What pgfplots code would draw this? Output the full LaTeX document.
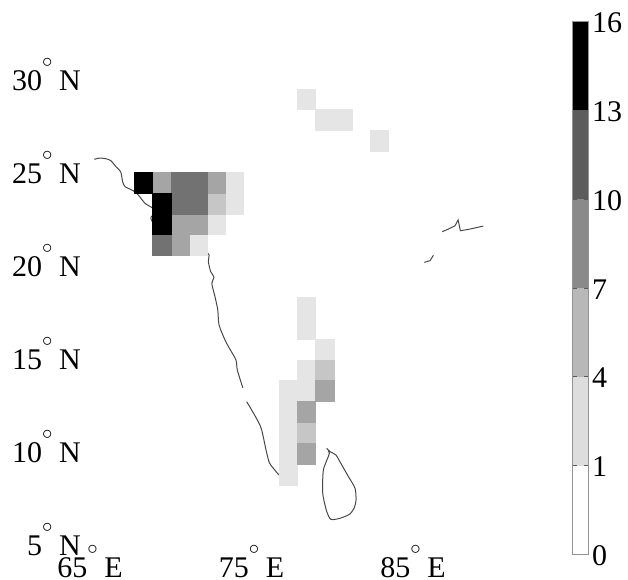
\documentclass[border=0pt]{standalone}
\usepackage{fontspec}
\setmainfont{Liberation Serif}
\usepackage{pgfplots}
\pgfplotsset{compat=1.18}
\newcommand{\dg}{\makebox[17pt][l]{\raisebox{22.5pt}{$\scriptstyle\circ$}}}
\pgfdeclareplotmark{cell}{\pgfpathrectangle{\pgfpoint{-9.05pt}{-10.43pt}}{\pgfpoint{18.1pt}{20.85pt}}\pgfusepathqfillstroke}
\definecolor{m1}{HTML}{E5E5E5}
\definecolor{m4}{HTML}{C6C6C6}
\definecolor{m7}{HTML}{A5A5A5}
\definecolor{m10}{HTML}{727272}
\definecolor{m13}{HTML}{000000}
\definecolor{b1}{HTML}{DDDDDD}
\definecolor{b4}{HTML}{B8B8B8}
\definecolor{b7}{HTML}{8A8A8A}
\definecolor{b10}{HTML}{5C5C5C}
\definecolor{coast}{HTML}{484848}
\pgfplotsset{cellplot/.style={only marks,mark=cell,mark options={draw=#1,fill=#1,line width=0.1pt}}}
\begin{document}
\begin{tikzpicture}
\path[use as bounding box] (0pt,0pt) rectangle (628pt,579pt);
\begin{axis}[
  at={(90pt,34.5pt)},anchor=south west,
  scale only axis,width=450pt,height=524.5pt,
  xmin=65,xmax=92.86,ymin=5,ymax=33.2,
  axis line style={draw=none},
  tick style={draw=none},
  clip=false,
  xtick={65,75,85},
  xticklabels={65\dg E,75\dg E,85\dg E},
  ytick={5,10,15,20,25,30},
  yticklabels={5\dg N,10\dg N,15\dg N,20\dg N,25\dg N,30\dg N},
  tick label style={font=\fontsize{30}{32}\selectfont},
  xticklabel style={anchor=base,yshift=-32.5pt,inner sep=0pt},
  yticklabel style={anchor=base east,xshift=-9pt,yshift=-10.5pt,inner sep=0pt},
]
% coast
\addplot[coast,line width=1pt,smooth,tension=0.4] coordinates {
(65.27,25.71)(65.62,25.78)(66.03,25.73)(66.30,25.63)(66.61,25.31)(66.90,25.04)(67.02,24.51)(67.17,24.24)(67.68,24.02)(67.99,23.79)(68.41,23.34)(68.88,23.08)(68.96,22.77)(68.78,22.61)(68.84,22.39)(69.64,21.64)(71.19,20.94)(72.24,20.67)(72.37,20.56)(72.33,20.20)(72.47,19.67)(72.68,19.37)(72.54,19.04)(72.74,18.32)(72.91,17.61)(72.99,16.80)(73.36,15.99)(73.67,15.49)(74.04,14.92)(74.12,14.38)(74.46,13.43)};
\addplot[coast,line width=1pt,smooth,tension=0.4] coordinates {
(74.70,12.68)(74.95,12.32)(75.42,11.60)(75.63,11.16)(75.90,10.08)(76.10,9.40)(76.35,9.10)(76.70,8.74)(77.07,8.47)};
\addplot[coast,line width=1pt,smooth,tension=0.4] coordinates {
(79.66,10.17)(79.86,9.99)(80.23,9.81)(80.59,9.27)(81.00,8.65)(81.41,8.02)(81.47,7.39)(81.35,6.95)(81.06,6.62)(80.48,6.41)(79.92,6.35)(79.66,6.76)(79.41,7.75)(79.45,9.01)(79.82,9.90)(79.66,10.17)};
\addplot[coast,line width=1pt] coordinates {
(86.81,21.82)(87.19,21.96)(87.60,22.14)(87.79,22.45)(87.93,21.87)(88.53,21.96)(89.35,22.12)};
\addplot[coast,line width=1pt] coordinates {(85.70,20.17)(86.05,20.26)(86.26,20.55)};
% cells, one series for each class
\addplot[cellplot=m1] coordinates {
(78.40,28.95)(79.52,27.83)(80.64,27.83)(82.88,26.71)
(73.91,24.47)(73.91,23.35)(72.79,22.23)(71.67,21.11)
(78.40,17.74)(78.40,16.62)(79.52,15.50)(78.40,14.38)(78.40,13.26)
(77.28,13.26)(77.28,12.14)(77.28,11.02)(77.28,9.90)(77.28,8.78)};
\addplot[cellplot=m4] coordinates {(72.79,23.35)(79.52,14.38)(78.40,11.02)};
\addplot[cellplot=m7] coordinates {
(69.43,24.47)(72.79,24.47)(70.55,22.23)(71.67,22.23)(70.55,21.11)
(79.52,13.26)(78.40,12.14)(78.40,9.90)};
\addplot[cellplot=m10] coordinates {
(70.55,24.47)(71.67,24.47)(70.55,23.35)(71.67,23.35)(69.43,21.11)};
\addplot[cellplot=m13] coordinates {(68.31,24.47)(69.43,23.35)(69.43,22.23)};
\end{axis}
\begin{axis}[
  at={(572.7pt,24.5pt)},anchor=south west,
  scale only axis,width=15.6pt,height=533pt,
  xmin=0,xmax=1,ymin=0,ymax=6,
  axis on top,
  axis line style={draw=gray!85,line width=0.9pt},
  xtick=\empty,
  ytick={0,1,2,3,4,5,6},
  yticklabels={0,1,4,7,10,13,16},
  yticklabel pos=right,
  ytick pos=both,
  tick align=inside,
  major tick length=4.5pt,
  ytick style={draw=black!65,line width=0.7pt},
  tick label style={font=\fontsize{30}{32}\selectfont},
  yticklabel style={anchor=base west,xshift=3.7pt,yshift=-11pt,inner sep=0pt},
]
\addplot[fill=b1,draw=none] coordinates {(0,1)(1,1)(1,2)(0,2)};
\addplot[fill=b4,draw=none] coordinates {(0,2)(1,2)(1,3)(0,3)};
\addplot[fill=b7,draw=none] coordinates {(0,3)(1,3)(1,4)(0,4)};
\addplot[fill=b10,draw=none] coordinates {(0,4)(1,4)(1,5)(0,5)};
\addplot[fill=black,draw=none] coordinates {(0,5)(1,5)(1,6)(0,6)};
\end{axis}
\end{tikzpicture}
\end{document}
